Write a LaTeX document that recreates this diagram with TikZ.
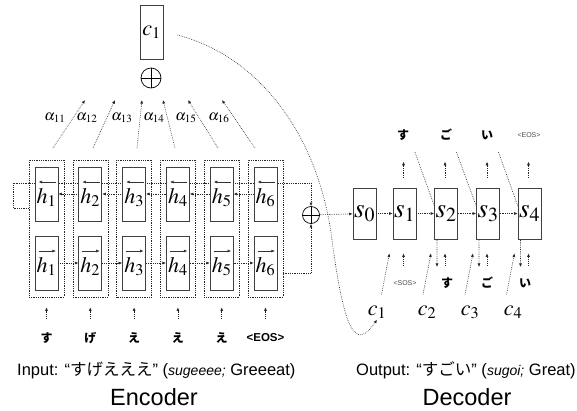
\documentclass[tikz,border=0pt]{standalone}
\usepackage[no-math]{fontspec}
\usepackage{mathptmx}
\setmainfont{Liberation Serif}
\newfontfamily\jp{Noto Sans CJK JP}
\newfontfamily\lat{Liberation Sans}
\usetikzlibrary{arrows.meta,calc}
\pgfdeclarelayer{bg}
\pgfsetlayers{bg,main}
\begin{document}
\begin{tikzpicture}[x=1pt,y=-1pt,
  dot/.style={line width=0.6pt, dash pattern=on 0.7pt off 1.1pt, draw=black!85},
  arr/.style={dot, -{Latex[length=3.6pt,width=3pt]}},
  harr/.style={draw=black!80, line width=0.6pt, -{Latex[length=3.6pt,width=3pt]}},
  cell/.style={draw=black!75, line width=0.7pt, fill=white, minimum width=23pt, minimum height=54pt, inner sep=0pt, font=\fontsize{22}{22}\selectfont},
  scell/.style={cell, minimum height=51pt, font=\fontsize{27}{27}\selectfont},
  hlab/.style={font=\fontsize{22}{22}\selectfont, inner sep=0pt},
  colbox/.style={dot, minimum width=35pt, minimum height=137pt, inner sep=0pt},
  oplusnode/.style={circle, draw=black, line width=0.7pt, inner sep=0pt},
  jpch/.style={font=\jp\bfseries\fontsize{12}{12}\selectfont, inner sep=0pt},
  eosbig/.style={font=\lat\bfseries\fontsize{11.5}{11.5}\selectfont, inner sep=0pt},
  eossmall/.style={font=\lat\fontsize{7}{7}\selectfont, text=black!70, inner sep=0pt},
  alab/.style={font=\fontsize{15}{15}\selectfont, inner sep=0pt},
  clab/.style={font=\fontsize{22}{22}\selectfont, inner sep=1pt},
  capline/.style={font=\lat\fontsize{16.5}{16.5}\selectfont, inner sep=0pt, anchor=west},
  title/.style={font=\lat\fontsize{23.5}{23.5}\selectfont, inner sep=0pt}
]
\useasboundingbox (0,0) rectangle (577,410);

% ---------- encoder ----------
\foreach \i/\x in {1/46.5,2/90.3,3/134.1,4/177.9,5/221.7,6/265.5} {
  \node[colbox] (col\i) at (\x,228.5) {};
  \node[cell] (hb\i) at (\x,194) {};
  \node[hlab] (hbl\i) at ($(hb\i)+(0,3.5)$) {$h_{\i}$};
  \draw[harr] ($(hb\i)+(9.5,-12)$) -- ($(hb\i)+(-8,-12)$);
  \node[cell] (hf\i) at (\x,263) {};
  \node[hlab] (hfl\i) at ($(hf\i)+(0,3.5)$) {$h_{\i}$};
  \draw[harr] ($(hf\i)+(-8,-12)$) -- ($(hf\i)+(9.5,-12)$);
  \draw[arr] ($(col\i.south)+(0,21)$) -- ($(col\i.south)+(0,10)$);
}
\foreach \i in {1,...,5} {
  \pgfmathtruncatemacro{\j}{\i+1}
  \draw[arr] (hb\j) -- (hb\i);
  \draw[arr] (hf\i) -- (hf\j);
}
\node[jpch] (in1) at (46.5,338) {す};
\node[jpch] (in2) at (90.3,338) {げ};
\node[jpch] (in3) at (134.1,338) {え};
\node[jpch] (in4) at (177.9,338) {え};
\node[jpch] (in5) at (221.7,338) {え};
\node[eosbig] (in6) at (265.5,338) {<EOS>};

\node[oplusnode, minimum size=17pt] (plusE) at (311,215) {};
\draw[line width=0.7pt] (plusE.north) -- (plusE.south) (plusE.east) -- (plusE.west);

\begin{pgfonlayer}{bg}
  \draw[arr] ($(hb1.west)+(-6,14)$) -- (13,208) -- (13,183) -- (311,183) -- (plusE.north);
  \draw[arr] ($(hf6.east)+(5.5,10)$) -- (311,273) -- (plusE.south);
\end{pgfonlayer}

% ---------- attention ----------
\node[cell] (cbox) at (151.5,32) {$c_1$};
\node[oplusnode, minimum size=20pt] (plusT) at (151,78) {};
\draw[line width=0.7pt] (plusT.north) -- (plusT.south) (plusT.east) -- (plusT.west);

\foreach \k/\bx/\tx/\lx in {1/53/85/55, 2/93/115/87, 3/137/142/122, 4/175/163/154, 5/218/188/186, 6/255/222/219} {
  \coordinate (ab\k) at (\bx,148);
  \coordinate (at\k) at (\tx,100);
  \draw[arr] (ab\k) -- (at\k);
  \node[alab] (al\k) at (\lx,118) {$\alpha_{1\k}$};
}

% ---------- decoder ----------
\foreach \i/\x in {0/364.5,1/404.5,2/446,3/488,4/529.5} {
  \node[scell] (s\i) at (\x,213.5) {$s_{\i}$};
}
\draw[arr] (plusE) -- (s0);
\foreach \i in {0,...,3} {
  \pgfmathtruncatemacro{\j}{\i+1}
  \draw[arr] (s\i) -- (s\j);
}
% outputs above
\node[jpch] (o1) at (403,135) {す};
\node[jpch] (o2) at (446,135) {ご};
\node[jpch] (o3) at (487,135) {い};
\node[eossmall] (o4) at (529,135) {<EOS>};
\foreach \i in {1,...,4} {
  \draw[arr] ($(s\i.north)+(-1,-10)$) -- ($(s\i.north)+(-1,-26)$);
}
% feedback of outputs
\begin{pgfonlayer}{bg}
\foreach \i in {1,2,3} {
  \pgfmathtruncatemacro{\j}{\i+1}
  \draw[arr] ($(s\i.north)+(10.5,-35.5)$) -- ($(s\j)+(-9,0)$) -- ($(s\j)+(-9,53.5)$);
}
\end{pgfonlayer}
% inputs below
\node[eossmall] (d1) at (405,283) {<SOS>};
\node[jpch] (d2) at (447,283) {す};
\node[jpch] (d3) at (487,283) {ご};
\node[jpch] (d4) at (525,283) {い};
\foreach \i in {1,...,4} {
  \draw[arr] ($(s\i.south)+(-1,26)$) -- ($(s\i.south)+(-1,14)$);
  \draw[arr] ($(s\i.south)+(-23,55)$) -- ($(s\i.south)+(-15,14)$);
}
\node[clab] (cl1) at (377,312) {$c_1$};
\node[clab] (cl2) at (427,312) {$c_2$};
\node[clab] (cl3) at (470,312) {$c_3$};
\node[clab] (cl4) at (513,312) {$c_4$};

\draw[arr] ($(cbox.east)+(14,3)$) .. controls (255,55) and (318,130) .. (332,240)
  .. controls (344,330) and (355,352) .. (cl1.south);

% ---------- captions ----------
\node[capline] (inl) at (17,370) {Input: “{\jp すげえええ}” ({\itshape\fontsize{14}{14}\selectfont sugeeee;} Greeeat)};
\node[capline] (outl) at (356,370) {Output: “{\jp すごい}” ({\itshape\fontsize{14}{14}\selectfont sugoi;} Great)};
\node[title] (enc) at (154,397) {Encoder};
\node[title] (dec) at (467,397) {Decoder};
\end{tikzpicture}
\end{document}
